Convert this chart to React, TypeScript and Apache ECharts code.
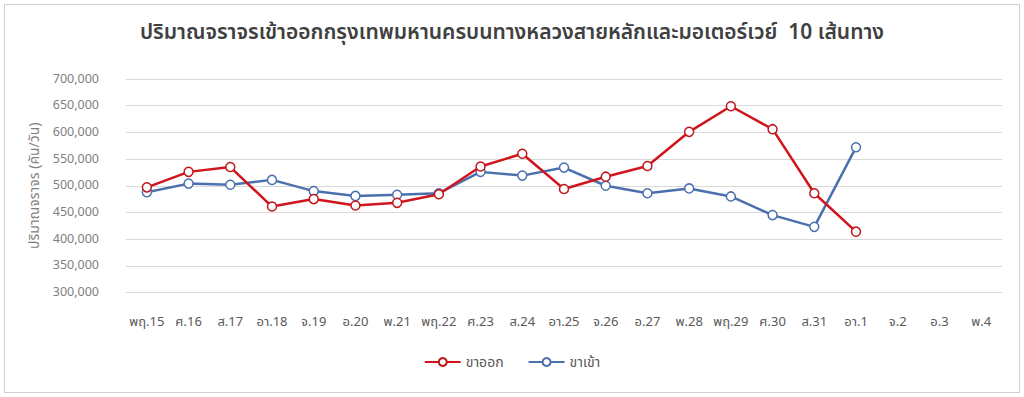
import React, { useEffect, useRef } from "react";
import * as echarts from "echarts";

const categories = [
  "พฤ.15", "ศ.16", "ส.17", "อา.18", "จ.19", "อ.20", "พ.21", "พฤ.22", "ศ.23", "ส.24",
  "อา.25", "จ.26", "อ.27", "พ.28", "พฤ.29", "ศ.30", "ส.31", "อา.1", "จ.2", "อ.3", "พ.4",
];
const outbound = [
  497000, 526000, 535000, 461000, 475000, 463000, 468000, 484000, 536000, 560000,
  494000, 517000, 537000, 601000, 649000, 606000, 486000, 414000, null, null, null,
];
const inbound = [
  488000, 504000, 502000, 511000, 490000, 481000, 483000, 486000, 526000, 519000,
  534000, 500000, 486000, 495000, 480000, 445000, 423000, 572000, null, null, null,
];
const titleText = "ปริมาณจราจรเข้าออกกรุงเทพมหานครบนทางหลวงสายหลักและมอเตอร์เวย์  10 เส้นทาง";
const yAxisName = "ปริมาณจราจร (คัน/วัน)";
const seriesNames = ["ขาออก", "ขาเข้า"];

const FONT = "Tahoma, 'Noto Sans Thai', 'Noto Sans', 'DejaVu Sans', sans-serif";

export default function App() {
  const ref = useRef<HTMLDivElement>(null);
  useEffect(() => {
    document.body.style.margin = "0";
    const chart = echarts.init(ref.current!, null, { renderer: "svg" });
    chart.setOption({
      animation: false,
      backgroundColor: "#ffffff",
      textStyle: { fontFamily: FONT },
      title: {
        text: titleText,
        left: "center",
        top: 17,
        textStyle: { fontSize: 21, fontWeight: 600, color: "#404040", fontFamily: FONT },
      },
      legend: {
        bottom: 23,
        left: "center",
        itemWidth: 36,
        itemHeight: 10,
        itemGap: 24,
        textStyle: { color: "#595959", fontSize: 14 },
        data: seriesNames,
      },
      grid: { left: 126, right: 22, top: 79, bottom: 104.5 },
      xAxis: {
        type: "category",
        data: categories,
        boundaryGap: true,
        axisLine: { show: true, lineStyle: { color: "#d9d9d9" } },
        axisTick: { show: false },
        axisLabel: { color: "#595959", fontSize: 13, margin: 23, interval: 0 },
      },
      yAxis: {
        type: "value",
        min: 300000,
        max: 700000,
        interval: 50000,
        name: yAxisName,
        nameLocation: "middle",
        nameGap: 74,
        nameTextStyle: { color: "#7f7f7f", fontSize: 14 },
        axisLine: { show: false },
        axisTick: { show: false },
        axisLabel: {
          color: "#7f7f7f",
          fontSize: 12.5,
          margin: 27,
          formatter: (v: number) => v.toLocaleString("en-US"),
        },
        splitLine: { lineStyle: { color: "#d9d9d9", width: 1 } },
      },
      series: [
        {
          name: seriesNames[0],
          type: "line",
          data: outbound,
          symbol: "circle",
          symbolSize: 9,
          lineStyle: { color: "#D0151D", width: 2.5 },
          itemStyle: { color: "#ffffff", borderColor: "#C0141B", borderWidth: 1.5 },
          z: 3,
        },
        {
          name: seriesNames[1],
          type: "line",
          data: inbound,
          symbol: "circle",
          symbolSize: 9,
          lineStyle: { color: "#4B70AE", width: 2.5 },
          itemStyle: { color: "#ffffff", borderColor: "#4B70AE", borderWidth: 1.5 },
          z: 2,
        },
      ],
    });
    return () => chart.dispose();
  }, []);
  return (
    <div style={{ position: "relative", width: 1024, height: 397 }}>
      <div ref={ref} style={{ width: 1024, height: 397 }} />
      <div
        style={{
          position: "absolute",
          left: 4,
          top: 4,
          width: 1014,
          height: 387,
          border: "1px solid #d0d0d0",
          pointerEvents: "none",
        }}
      />
    </div>
  );
}
